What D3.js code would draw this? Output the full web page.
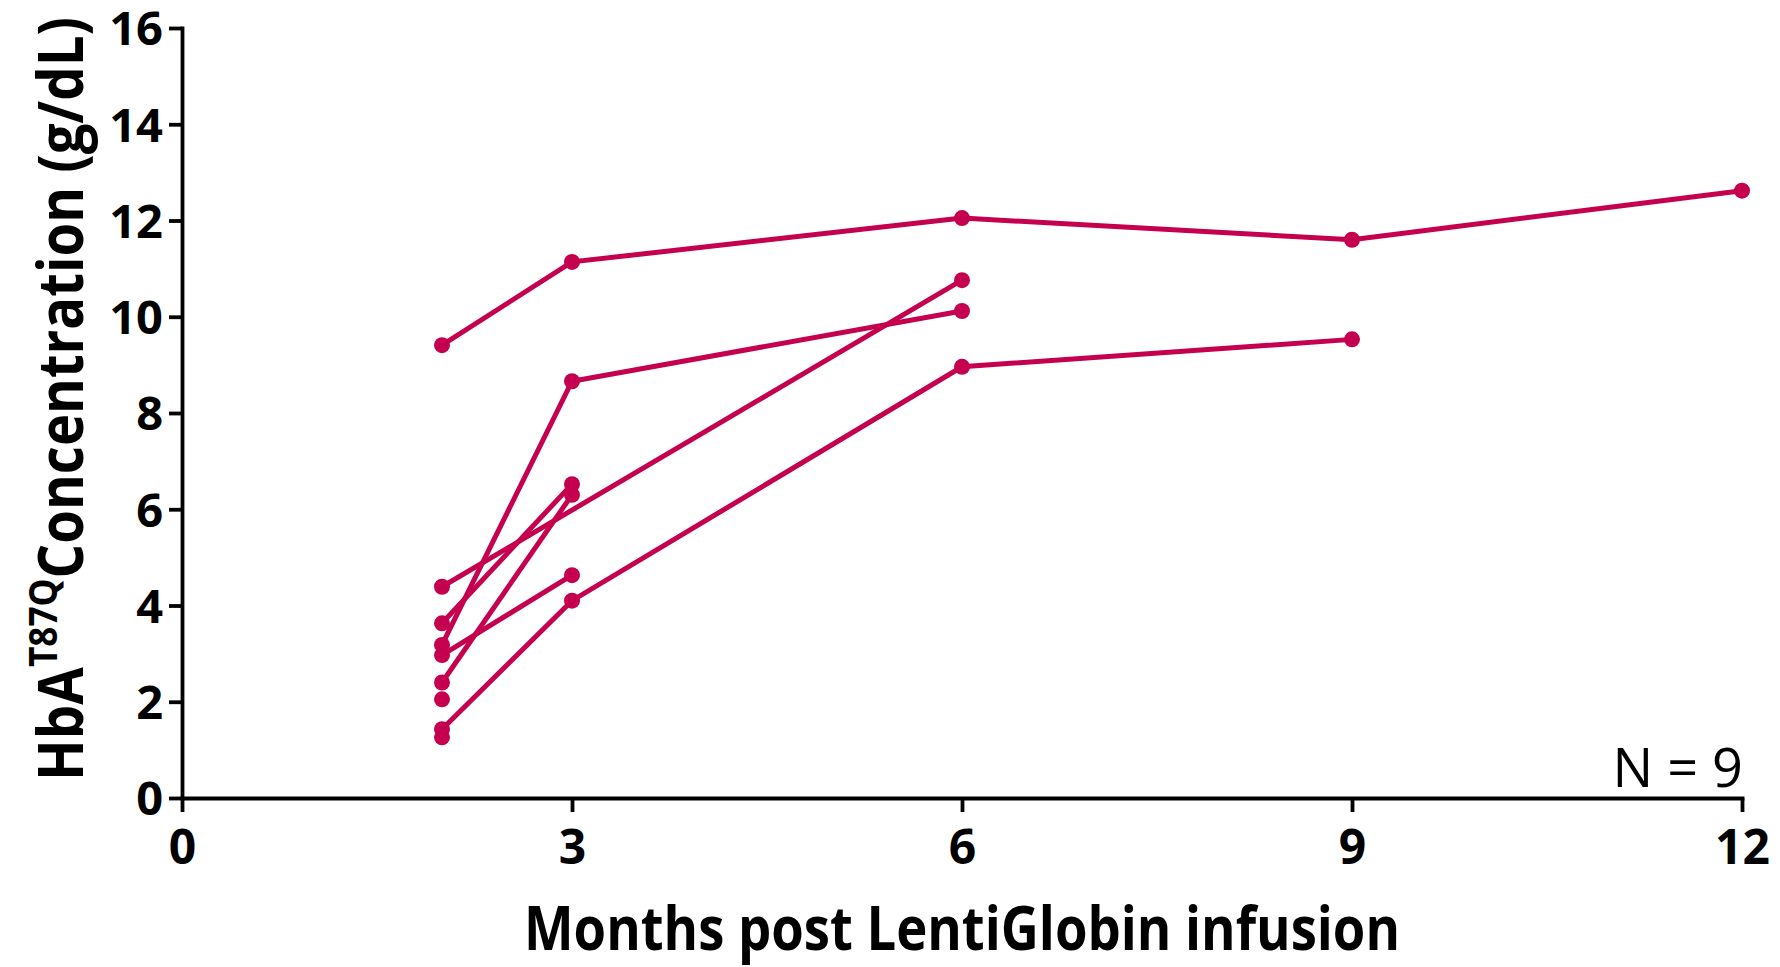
<!DOCTYPE html>
<html>
<head>
<meta charset="utf-8">
<script src="https://cdn.jsdelivr.net/npm/d3@7"></script>
<style>
  body { margin: 0; background: #fff; }
  text { font-family: "Open Sans", "DejaVu Sans", sans-serif; }
</style>
</head>
<body>
<div id="chart"></div>
<script>
// months after infusion, one array per patient, and matching HbA T87Q values
let monthsP1 = [2, 3, 6, 9, 12];
let valuesP1 = [9.41, 11.14, 12.05, 11.6, 12.62];
let monthsP2 = [2, 6];
let valuesP2 = [4.39, 10.76];
let monthsP3 = [2, 3, 6, 9];
let valuesP3 = [1.43, 4.1, 8.96, 9.53];
let monthsP4 = [2, 3];
let valuesP4 = [2.97, 4.63];
let monthsP5 = [2, 3];
let valuesP5 = [2.4, 6.3];
let monthsP6 = [2, 3];
let valuesP6 = [3.63, 6.52];
let monthsP7 = [2, 3, 6];
let valuesP7 = [3.18, 8.66, 10.12];
let monthsP8 = [2];
let valuesP8 = [2.05];
let monthsP9 = [2];
let valuesP9 = [1.26];

let xTicks = [0, 3, 6, 9, 12];
let yTicks = [0, 2, 4, 6, 8, 10, 12, 14, 16];

let patients = [
    [monthsP1, valuesP1], [monthsP2, valuesP2], [monthsP3, valuesP3],
    [monthsP4, valuesP4], [monthsP5, valuesP5], [monthsP6, valuesP6],
    [monthsP7, valuesP7], [monthsP8, valuesP8], [monthsP9, valuesP9]
].map(p => p[0].map((m, i) => ({ m: m, v: p[1][i] })));

const W = 1780, H = 967;
const col = "#c5004f";

let svg = d3.select("#chart").append("svg")
    .attr("width", W)
    .attr("height", H);

let x = d3.scaleLinear().domain([0, 12]).range([182, 1742]);
let y = d3.scaleLinear().domain([0, 16]).range([798, 28]);

// axes
let xAxis = svg.append("g")
    .attr("transform", `translate(0,${y(0)})`)
    .call(d3.axisBottom(x).tickValues(xTicks).tickSize(14).tickSizeOuter(0).tickPadding(18));
let yAxis = svg.append("g")
    .attr("transform", `translate(${x(0)},0)`)
    .call(d3.axisLeft(y).tickValues(yTicks).tickSize(13).tickSizeOuter(0).tickPadding(6));

[xAxis, yAxis].forEach(g => {
    g.selectAll("path, line").attr("stroke", "#000").attr("stroke-width", 3.8);
    g.select(".domain").attr("stroke-linecap", "square");
    g.selectAll("text")
        .attr("fill", "#000")
        .style("font-weight", "bold")
        .style("font-family", "'Open Sans', sans-serif");
});
xAxis.selectAll("text").style("font-size", "48px").attr("dy", "0.71em");
yAxis.selectAll("text").style("font-size", "47px").attr("dy", "0.36em");

// lines + dots
let line = d3.line().x(d => x(d.m)).y(d => y(d.v));

svg.append("g").selectAll("path")
    .data(patients.filter(p => p.length > 1))
    .join("path")
    .attr("d", line)
    .attr("fill", "none")
    .attr("stroke", col)
    .attr("stroke-width", 5);

svg.append("g").selectAll("circle")
    .data(patients.flat())
    .join("circle")
    .attr("cx", d => x(d.m))
    .attr("cy", d => y(d.v))
    .attr("r", 8)
    .attr("fill", col);

// x title
let xt = svg.append("text")
    .attr("x", 962)
    .attr("y", 950)
    .attr("text-anchor", "middle")
    .style("font-size", "60px")
    .style("font-weight", "bold")
    .text("Months post LentiGlobin infusion");
xt.attr("textLength", 876).attr("lengthAdjust", "spacingAndGlyphs");

// y title (rotated), squeeze to the target length
let yg = svg.append("g").attr("transform", "translate(83,399) rotate(-90)");
let yt = yg.append("text")
    .attr("text-anchor", "middle")
    .style("font-size", "62px")
    .style("font-weight", "bold");
yt.append("tspan").text("HbA");
yt.append("tspan").attr("dy", -26).style("font-size", "40px").text("T87Q");
yt.append("tspan").attr("dy", 26).text("Concentration (g/dL)");
let bw = yt.node().getBBox().width;
yt.attr("transform", `scale(${764 / bw},1)`);

// N label
svg.append("text")
    .attr("x", 1743)
    .attr("y", 787)
    .attr("text-anchor", "end")
    .style("font-size", "54px")
    .text("N = 9");
</script>
</body>
</html>
